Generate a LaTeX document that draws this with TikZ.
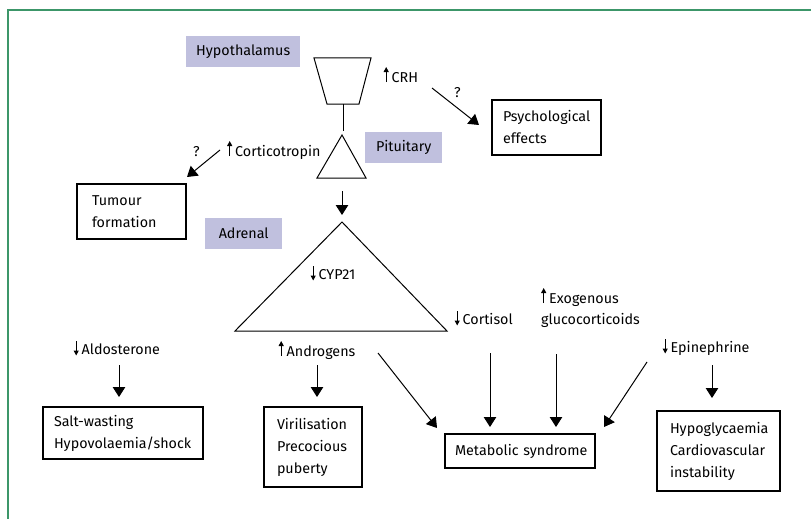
\documentclass[tikz,border=0pt]{standalone}
\usepackage{fontspec}
\setmainfont{Fira Sans}
\usetikzlibrary{arrows.meta}
\definecolor{framegreen}{RGB}{60,150,105}
\definecolor{labelfill}{RGB}{192,192,222}
\newcommand{\uarr}{\tikz[baseline=0pt,x=1pt,y=1pt]\draw[line width=1pt,-{Triangle[length=5pt,width=5pt]}] (0,0) -- (0,15);\kern3pt}
\newcommand{\darr}{\tikz[baseline=0pt,x=1pt,y=1pt]\draw[line width=1pt,-{Triangle[length=5pt,width=5pt]}] (0,13) -- (0,-1.5);\kern3pt}
\tikzset{
  txt/.style={inner sep=0pt, anchor=base west, font=\fontsize{14.3}{22}\selectfont},
  organ/.style={fill=labelfill, inner sep=0pt, anchor=north west, font=\fontsize{14.3}{22}\selectfont},
  outbox/.style={draw, line width=1.1pt, inner ysep=0pt, align=left, font=\fontsize{14.3}{22}\selectfont},
  gland/.style={draw, line width=1pt, line join=miter},
  link/.style={line width=1pt},
  arr/.style={line width=1pt, -{Triangle[length=10pt,width=12.5pt]}}
}
\begin{document}
\begin{tikzpicture}[x=1pt,y=-1pt]
\useasboundingbox (0,0) rectangle (811,519);
% frame
\coordinate (frBL) at (8,519);
\coordinate (frTL) at (8,10);
\coordinate (frTR) at (811,10);
\draw[framegreen, line width=1.5pt] (frBL) -- (frTL) -- (frTR);

% organ labels
\node[organ, minimum width=114pt, minimum height=31pt] (hyplab) at (186,36) {Hypothalamus};
\node[organ, minimum width=77pt, minimum height=31pt] (pitlab) at (365,132) {Pituitary};
\node[organ, minimum width=77pt, minimum height=31pt] (adrlab) at (205,218) {Adrenal};

% glands
\coordinate (hypTL) at (314,58);
\coordinate (hypTR) at (371,58);
\coordinate (hypBR) at (359,104);
\coordinate (hypBL) at (327,104);
\draw[gland] (hypTL) -- (hypTR) -- (hypBR) -- (hypBL) -- cycle;
\coordinate (pitA) at (342,135);
\coordinate (pitL) at (317,178);
\coordinate (pitR) at (366,178);
\draw[gland] (pitA) -- (pitR) -- (pitL) -- cycle;
\coordinate (adrA) at (342,222);
\coordinate (adrL) at (235,331);
\coordinate (adrR) at (447,331);
\draw[gland] (adrA) -- (adrR) -- (adrL) -- cycle;

% text labels
\node[txt] (crh) at (383.5,82) {\uarr CRH};
\node[txt] (q1) at (454,97) {?};
\node[txt] (acth) at (227,156) {\uarr Corticotropin};
\node[txt] (q2) at (193,156) {?};
\node[txt] (cyp) at (310.5,279) {\darr CYP21};
\node[txt] (ald) at (73.5,354) {\darr Aldosterone};
\node[txt] (andr) at (278.5,356) {\uarr Androgens};
\node[txt] (cortisol) at (454.5,324) {\darr Cortisol};
\node[txt] (exo1) at (541,303) {\uarr Exogenous};
\node[txt] (exo2) at (541,324) {glucocorticoids};
\node[txt] (epi) at (662.5,352) {\darr Epinephrine};

% outcome boxes
\node[outbox, inner xsep=11pt, text width=87pt, minimum height=55pt] (psy) at (546.5,127.5) {Psychological\\effects};
\node[outbox, inner xsep=15pt, text width=79pt, minimum height=55pt] (tum) at (131.5,211.5) {Tumour\\formation};
\node[outbox, inner xsep=11pt, text width=138pt, minimum height=52pt] (salt) at (123,433) {\mbox{Salt-wasting}\\\mbox{Hypovolaemia/shock}};
\node[outbox, inner xsep=13pt, text width=72pt, minimum height=80pt] (viri) at (313,447) {Virilisation\\Precocious\\puberty};
\node[outbox, inner xsep=10pt, text width=130pt, minimum height=34pt] (meta) at (520,451) {\mbox{Metabolic syndrome}};
\node[outbox, inner xsep=13pt, text width=97pt, minimum height=80pt] (hypo) at (718.5,451) {\mbox{Hypoglycaemia}\\\mbox{Cardiovascular}\\instability};

% connectors
\coordinate (hypPit1) at (343,104);
\coordinate (hypPit2) at (343,131);
\draw[link] (hypPit1) -- (hypPit2);

\coordinate (crhS) at (432,88);
\coordinate (crhE) at (479,125);
\draw[arr] (crhS) -- (crhE);

\coordinate (acthS) at (220,150);
\coordinate (acthE) at (187,177);
\draw[arr] (acthS) -- (acthE);

\coordinate (pitS) at (342,191);
\coordinate (pitE) at (342,215);
\draw[arr] (pitS) -- (pitE);

\coordinate (aldS) at (119,365);
\coordinate (aldE) at (119,397);
\draw[arr] (aldS) -- (aldE);

\coordinate (andS) at (317,365);
\coordinate (andE) at (317,397);
\draw[arr] (andS) -- (andE);

\coordinate (andDS) at (378,353);
\coordinate (andDE) at (437,428);
\draw[arr] (andDS) -- (andDE);

\coordinate (corS) at (490,353);
\coordinate (corE) at (490,427);
\draw[arr] (corS) -- (corE);

\coordinate (exoS) at (556,354);
\coordinate (exoE) at (556,427);
\draw[arr] (exoS) -- (exoE);

\coordinate (epiDS) at (647,362);
\coordinate (epiDE) at (604,427);
\draw[arr] (epiDS) -- (epiDE);

\coordinate (epiS) at (712,365);
\coordinate (epiE) at (712,398);
\draw[arr] (epiS) -- (epiE);
\end{tikzpicture}
\end{document}
